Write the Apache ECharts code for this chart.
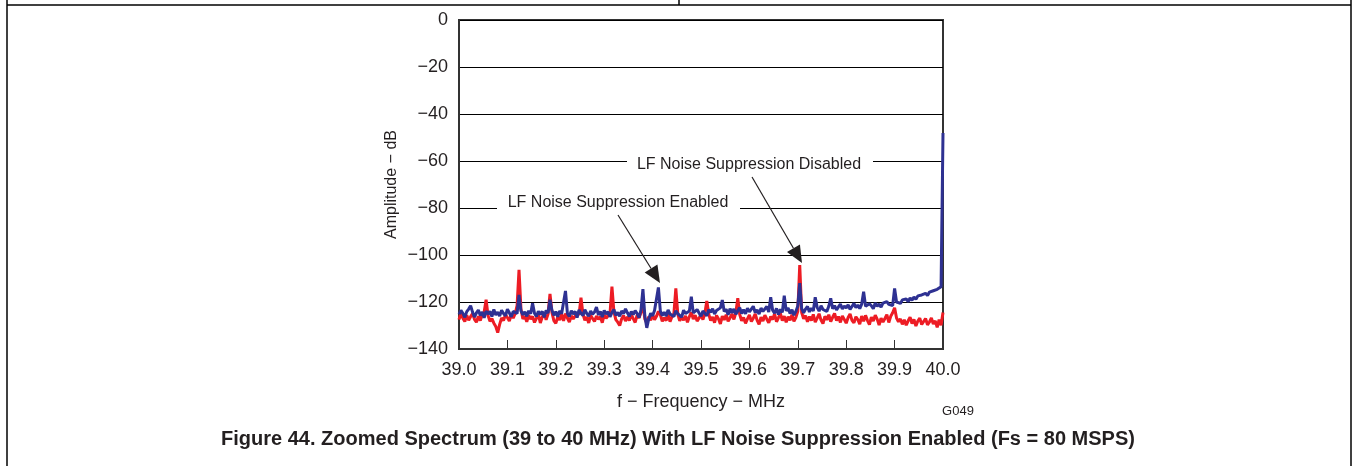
<!DOCTYPE html>
<html><head><meta charset="utf-8">
<script src="https://cdn.jsdelivr.net/npm/echarts@6/dist/echarts.min.js"></script>
<style>html,body{margin:0;padding:0;background:#fff}#c{width:1353px;height:466px}</style>
</head><body><div id="c"></div>
<script>
// Frequency axis (MHz): 39.0 .. 40.0, sample spacing 0.004 MHz (251 samples)
const fStart = 39.0;
const fStep = 0.004;
const xTicks = ['39.0','39.1','39.2','39.3','39.4','39.5','39.6','39.7','39.8','39.9','40.0'];
const yTicks = [0,-20,-40,-60,-80,-100,-120,-140];

// Red trace (dB)
const redDb = [
-127.5,-124.8,-126.9,-128.3,-125.6,-127.8,-126.2,-124.9,-127.4,-128.6,
-126.1,-127.9,-125.3,-124.2,-119.0,-125.8,-128.2,-127.1,-129.0,-130.4,
-133.0,-129.5,-126.8,-127.9,-125.4,-126.6,-128.1,-125.2,-126.9,-125.0,
-121.5,-106.3,-123.0,-127.2,-126.0,-128.4,-125.6,-127.3,-126.1,-128.7,
-127.0,-125.3,-128.9,-126.4,-124.7,-127.6,-125.1,-116.6,-124.4,-127.9,
-129.1,-126.3,-127.7,-125.2,-128.0,-124.9,-126.8,-128.5,-125.9,-127.2,
-126.0,-124.6,-125.5,-118.2,-125.0,-127.8,-126.4,-128.9,-125.7,-127.0,
-128.3,-125.9,-127.4,-126.2,-128.8,-125.5,-126.9,-127.6,-124.8,-113.5,
-124.1,-127.5,-128.6,-130.0,-127.2,-125.8,-128.1,-126.3,-127.9,-125.4,
-127.1,-128.7,-125.6,-126.8,-124.5,-121.0,-127.3,-129.0,-126.2,-127.8,
-125.3,-127.6,-126.1,-124.0,-125.5,-128.2,-126.7,-127.9,-125.2,-128.4,
-126.3,-124.9,-114.2,-125.1,-128.0,-126.5,-127.7,-125.9,-128.6,-126.2,
-124.4,-127.3,-125.6,-128.1,-126.9,-125.3,-127.5,-124.8,-119.6,-125.2,
-127.9,-126.4,-128.8,-125.7,-127.1,-129.3,-126.0,-127.6,-125.4,-128.2,
-126.8,-125.0,-127.4,-124.6,-118.4,-125.3,-128.0,-126.6,-129.1,-127.2,
-125.5,-128.3,-126.9,-125.1,-127.8,-129.5,-126.4,-128.1,-125.6,-127.3,
-128.8,-126.2,-127.5,-125.0,-128.4,-126.7,-124.9,-127.9,-126.0,-128.6,
-126.3,-127.8,-125.4,-128.2,-126.6,-124.0,-104.3,-124.5,-127.1,-125.8,
-128.4,-126.2,-127.9,-125.3,-128.6,-126.9,-125.0,-127.7,-129.2,-126.1,
-127.6,-125.4,-128.3,-126.5,-124.8,-127.9,-126.2,-128.7,-125.9,-127.4,
-129.0,-126.6,-125.1,-127.8,-128.9,-126.3,-127.5,-129.4,-126.0,-128.2,
-125.7,-127.9,-129.6,-126.4,-128.1,-125.6,-127.3,-129.8,-126.9,-128.5,
-127.0,-125.4,-128.7,-126.1,-124.6,-122.5,-126.8,-128.4,-127.2,-129.5,
-127.6,-129.9,-128.0,-126.5,-129.2,-127.4,-130.2,-128.1,-126.9,-129.6,
-128.3,-127.0,-129.7,-128.5,-126.8,-129.4,-128.0,-130.8,-127.5,-129.9,
-124.5
];

// Blue trace (dB)
const blueDb = [
-125.2,-123.6,-124.8,-126.5,-124.1,-123.0,-121.6,-124.3,-126.4,-124.6,
-123.4,-125.8,-124.2,-126.7,-123.9,-125.1,-124.0,-126.2,-123.2,-125.5,
-124.3,-126.0,-123.5,-124.9,-125.9,-123.1,-124.6,-126.3,-124.0,-123.4,
-124.9,-117.0,-123.8,-125.4,-124.2,-126.1,-123.7,-125.0,-120.5,-124.8,
-126.2,-123.9,-125.3,-124.0,-126.5,-123.6,-124.7,-119.0,-123.5,-125.6,
-124.1,-126.3,-123.8,-125.0,-124.4,-115.3,-124.9,-126.2,-123.7,-125.1,
-124.0,-126.6,-123.4,-124.8,-125.7,-123.3,-124.9,-126.0,-123.9,-125.2,
-124.3,-122.2,-125.5,-124.0,-126.4,-123.6,-125.1,-124.2,-126.3,-124.5,
-123.2,-125.7,-124.4,-126.1,-123.8,-125.0,-122.9,-124.6,-126.2,-124.1,
-125.3,-123.7,-124.9,-126.6,-123.5,-114.5,-126.0,-131.0,-127.2,-124.8,
-125.9,-123.6,-124.4,-113.8,-123.9,-125.8,-124.3,-126.0,-123.4,-125.1,
-124.6,-126.2,-123.7,-125.0,-124.2,-126.4,-123.5,-124.9,-125.6,-123.8,
-117.7,-124.6,-125.3,-123.2,-124.7,-126.1,-123.8,-124.5,-125.9,-123.3,
-124.4,-122.9,-125.1,-123.6,-124.3,-122.5,-119.2,-124.0,-123.1,-125.4,
-122.8,-124.6,-123.0,-125.2,-123.7,-122.4,-124.9,-123.3,-125.0,-122.7,
-124.2,-123.0,-121.8,-124.5,-123.4,-125.1,-122.6,-124.0,-123.2,-121.9,
-124.3,-118.0,-123.5,-124.8,-122.7,-125.3,-123.1,-124.4,-117.3,-123.8,
-122.5,-124.9,-123.3,-125.6,-124.0,-121.7,-112.0,-122.8,-124.6,-123.0,
-121.9,-124.2,-122.6,-123.8,-118.0,-122.3,-123.9,-121.6,-123.2,-122.4,
-124.0,-121.8,-118.4,-122.9,-121.5,-123.4,-122.1,-120.9,-123.0,-121.7,
-122.6,-121.2,-123.1,-121.9,-120.6,-122.4,-121.3,-122.8,-120.9,-115.6,
-121.8,-122.5,-120.7,-121.6,-122.9,-120.4,-121.8,-120.9,-122.2,-120.5,
-121.3,-119.8,-121.0,-120.2,-121.5,-114.2,-120.0,-119.3,-120.6,-119.1,
-119.8,-118.7,-119.9,-118.3,-119.2,-117.9,-118.8,-117.4,-118.1,-117.0,
-117.6,-116.3,-117.2,-115.8,-116.5,-115.2,-115.9,-114.6,-115.0,-113.5,
-48.1
];

const toPairs = arr => arr.map((v, i) => [+(fStart + i * fStep).toFixed(3), v]);

const chart = echarts.init(document.getElementById('c'), null, {renderer: 'canvas'});
const FONT = 'Liberation Sans, Arial, Helvetica, sans-serif';
const INK = '#231F20';

function arrow(x1, y1, x2, y2) {
  const dx = x2 - x1, dy = y2 - y1, L = Math.hypot(dx, dy);
  const ux = dx / L, uy = dy / L, px = -uy, py = ux;
  const hl = 17, hw = 7.5;
  const bx = x2 - ux * hl, by = y2 - uy * hl;
  return [
    {type: 'line', z: 100, shape: {x1, y1, x2: bx, y2: by}, style: {stroke: INK, lineWidth: 1.2}},
    {type: 'polygon', z: 100, shape: {points: [[x2, y2], [bx + px * hw, by + py * hw], [bx - px * hw, by - py * hw]]}, style: {fill: INK}}
  ];
}

const minus = v => String(v).replace('-', '\u2212');

chart.setOption({
  animation: false,
  backgroundColor: '#fff',
  grid: {left: 459, right: 410, top: 20, bottom: 117, show: true, borderColor: '#333', borderWidth: 2, backgroundColor: 'transparent'},
  xAxis: {
    type: 'value', min: 39.0, max: 40.0, interval: 0.1,
    name: 'f \u2212 Frequency \u2212 MHz', nameLocation: 'middle', nameGap: 44,
    nameTextStyle: {fontFamily: FONT, fontSize: 18, color: INK},
    axisLine: {show: true, onZero: false, lineStyle: {color: '#333', width: 2}},
    axisTick: {show: true, inside: true, length: 9, lineStyle: {color: '#333', width: 1}},
    axisLabel: {fontFamily: FONT, fontSize: 18, color: INK, margin: 12,
      formatter: v => xTicks[Math.round((v - 39) * 10)] || v.toFixed(1)},
    splitLine: {show: false}
  },
  yAxis: {
    type: 'value', min: -140, max: 0, interval: 20,
    name: 'Amplitude \u2212 dB', nameLocation: 'middle', nameGap: 59, nameRotate: 90,
    nameTextStyle: {fontFamily: FONT, fontSize: 16, color: INK},
    axisLine: {show: true, lineStyle: {color: '#333', width: 2}},
    axisTick: {show: false},
    axisLabel: {fontFamily: FONT, fontSize: 18, color: INK, margin: 11, formatter: v => minus(v)},
    splitLine: {show: true, lineStyle: {color: '#000', width: 1}}
  },
  series: [
    {type: 'line', name: 'red', data: toPairs(redDb), showSymbol: false, symbol: 'none',
      lineStyle: {color: '#ED1C24', width: 3}, z: 3},
    {type: 'line', name: 'blue', data: toPairs(blueDb), showSymbol: false, symbol: 'none',
      lineStyle: {color: '#2E3192', width: 3}, z: 4}
  ],
  graphic: [
    // page frame
    {type: 'line', z: 100, shape: {x1: 7, y1: 0, x2: 7, y2: 466}, style: {stroke: '#000', lineWidth: 1.5}},
    {type: 'line', z: 100, shape: {x1: 1351, y1: 0, x2: 1351, y2: 466}, style: {stroke: '#000', lineWidth: 1.5}},
    {type: 'line', z: 100, shape: {x1: 7, y1: 5, x2: 1351, y2: 5}, style: {stroke: '#000', lineWidth: 1.5}},
    {type: 'line', z: 100, shape: {x1: 679, y1: 0, x2: 679, y2: 5}, style: {stroke: '#000', lineWidth: 1.5}},
    // annotation labels
    {type: 'rect', z: 99, shape: {x: 627, y: 155, width: 246, height: 20}, style: {fill: '#fff'}},
    {type: 'text', z: 100, style: {text: 'LF Noise Suppression Disabled', x: 749, y: 165, align: 'center', verticalAlign: 'middle', font: '16px ' + FONT, fill: INK}},
    {type: 'rect', z: 99, shape: {x: 497, y: 193, width: 243, height: 20}, style: {fill: '#fff'}},
    {type: 'text', z: 100, style: {text: 'LF Noise Suppression Enabled', x: 618, y: 203, align: 'center', verticalAlign: 'middle', font: '16px ' + FONT, fill: INK}},
    ...arrow(752, 177, 802, 263),
    ...arrow(618, 215, 660, 283),
    // figure id & caption
    {type: 'text', z: 100, style: {text: 'G049', x: 958, y: 411, align: 'center', verticalAlign: 'middle', font: '13px ' + FONT, fill: INK}},
    {type: 'text', z: 100, style: {text: 'Figure 44. Zoomed Spectrum (39 to 40 MHz) With LF Noise Suppression Enabled (Fs = 80 MSPS)', x: 678, y: 439, align: 'center', verticalAlign: 'middle', font: 'bold 20px ' + FONT, fill: INK}}
  ]
});
</script></body></html>
